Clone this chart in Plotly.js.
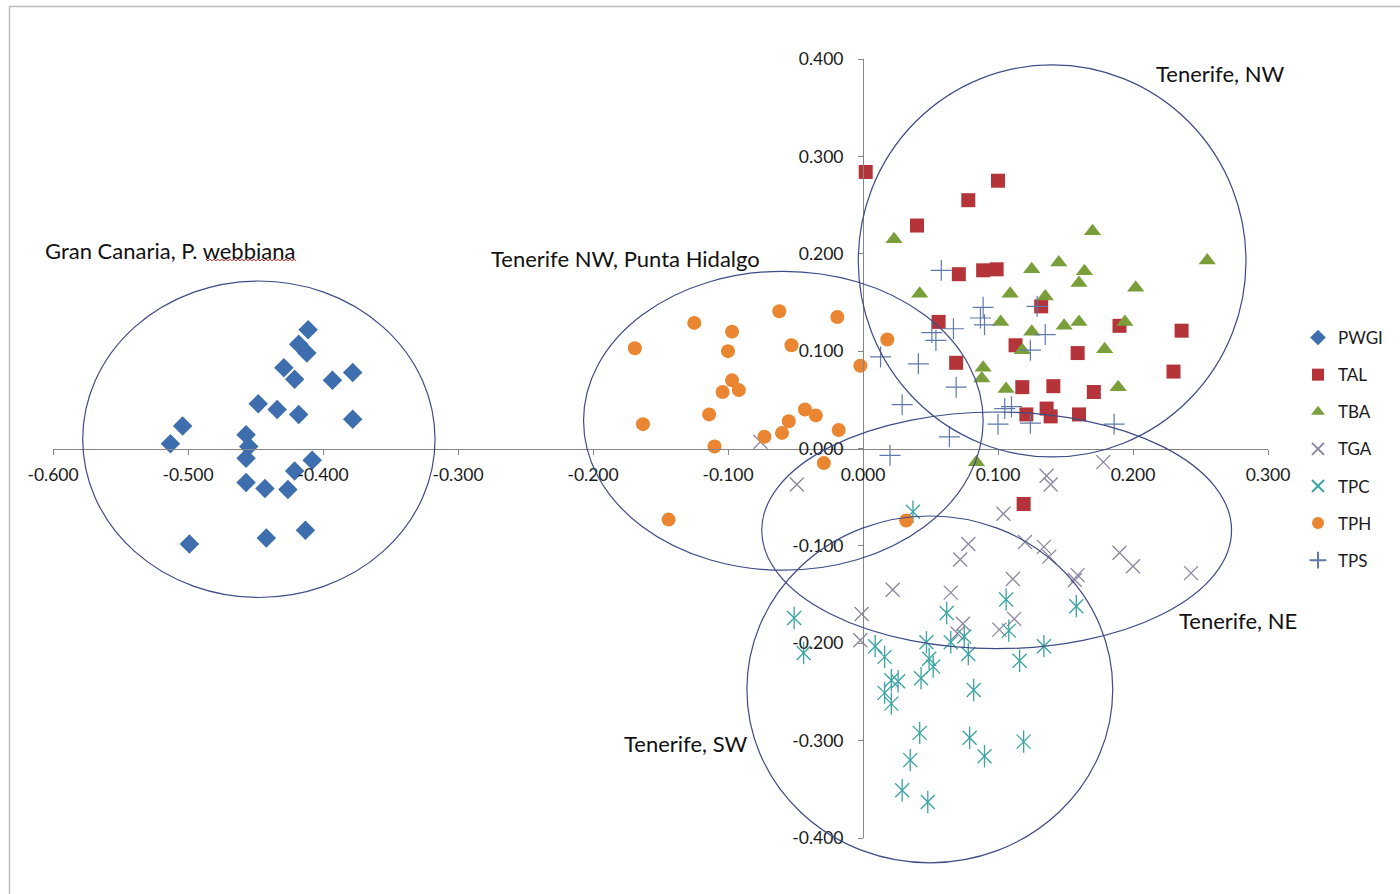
<!DOCTYPE html>
<html>
<head>
<meta charset="utf-8">
<script src="https://cdn.plot.ly/plotly-3.0.1.min.js"></script>
<style>
  html, body { margin: 0; padding: 0; background: #ffffff; }
  #chart { width: 1400px; height: 894px; }
</style>
</head>
<body>
<div id="chart"></div>
<script>
// ---------------- data ----------------
const seriesNames = ["PWGI", "TAL", "TBA", "TGA", "TPC", "TPH", "TPS"];

const pwgiX = [-0.411,-0.418,-0.412,-0.429,-0.421,-0.393,-0.378,-0.448,-0.434,-0.418,-0.378,-0.504,-0.513,-0.457,-0.455,-0.457,-0.408,-0.421,-0.457,-0.443,-0.426,-0.413,-0.442,-0.499];
const pwgiY = [0.122,0.107,0.098,0.083,0.071,0.070,0.078,0.046,0.040,0.035,0.030,0.023,0.005,0.014,0.002,-0.010,-0.012,-0.023,-0.035,-0.041,-0.042,-0.084,-0.092,-0.098];

const talX = [0.002,0.100,0.078,0.040,0.071,0.089,0.099,0.056,0.132,0.190,0.236,0.113,0.159,0.069,0.230,0.118,0.141,0.171,0.121,0.136,0.139,0.160,0.119];
const talY = [0.284,0.275,0.255,0.229,0.179,0.183,0.184,0.130,0.146,0.126,0.121,0.106,0.098,0.088,0.079,0.063,0.064,0.058,0.035,0.041,0.033,0.035,-0.057];

const tbaX = [0.023,0.170,0.255,0.145,0.125,0.164,0.160,0.042,0.109,0.135,0.202,0.102,0.149,0.160,0.194,0.125,0.118,0.179,0.089,0.088,0.106,0.189,0.084];
const tbaY = [0.215,0.223,0.193,0.191,0.184,0.182,0.170,0.159,0.159,0.156,0.165,0.130,0.126,0.130,0.130,0.120,0.101,0.102,0.083,0.072,0.061,0.063,-0.014];

const tgaX = [0.178,0.136,0.139,-0.049,0.104,0.078,0.072,0.120,0.134,0.138,0.190,0.200,0.243,0.159,0.157,0.111,0.022,0.065,-0.001,0.112,0.074,0.101,-0.076,-0.002,0.070];
const tgaY = [-0.014,-0.028,-0.037,-0.037,-0.067,-0.098,-0.114,-0.096,-0.101,-0.111,-0.107,-0.121,-0.128,-0.130,-0.135,-0.134,-0.145,-0.148,-0.170,-0.175,-0.180,-0.186,0.007,-0.197,-0.190];

const tpcX = [0.037,-0.051,-0.044,0.062,0.106,0.158,0.047,0.065,0.075,0.108,0.134,0.009,0.016,0.078,0.049,0.052,0.116,0.021,0.026,0.043,0.016,0.021,0.082,0.042,0.079,0.119,0.035,0.090,0.029,0.048];
const tpcY = [-0.065,-0.174,-0.210,-0.169,-0.155,-0.162,-0.199,-0.199,-0.193,-0.187,-0.203,-0.203,-0.214,-0.211,-0.216,-0.224,-0.218,-0.238,-0.239,-0.236,-0.251,-0.262,-0.248,-0.292,-0.297,-0.301,-0.320,-0.316,-0.351,-0.363];

const tphX = [-0.062,-0.019,-0.125,-0.097,-0.169,-0.100,-0.053,-0.002,-0.097,-0.104,-0.092,-0.043,-0.035,-0.114,-0.055,-0.060,-0.018,-0.163,-0.073,-0.110,-0.029,-0.144,0.018,0.032];
const tphY = [0.141,0.135,0.129,0.120,0.103,0.100,0.106,0.085,0.070,0.058,0.060,0.040,0.034,0.035,0.028,0.016,0.019,0.025,0.012,0.002,-0.015,-0.073,0.112,-0.074];

const tpsX = [0.058,0.089,0.087,0.090,0.067,0.051,0.054,0.129,0.135,0.124,0.013,0.041,0.069,0.029,0.105,0.110,0.100,0.124,0.186,0.064,0.020];
const tpsY = [0.183,0.145,0.134,0.127,0.123,0.119,0.111,0.146,0.117,0.101,0.094,0.087,0.063,0.045,0.041,0.043,0.025,0.026,0.025,0.012,-0.007];

// axis ticks
const xTicks = [-0.6,-0.5,-0.4,-0.3,-0.2,-0.1,0.0,0.1,0.2,0.3];
const yTicks = [-0.4,-0.3,-0.2,-0.1,0.0,0.1,0.2,0.3,0.4];

// group ellipses (data units): left, right, top, bottom
const ellipseLeft   = [-0.578, -0.207, -0.0035, -0.075, -0.086];
const ellipseRight  = [-0.317,  0.089,  0.2837,  0.273,  0.185];
const ellipseTop    = [ 0.172,  0.182,  0.394,   0.0375, -0.0693];
const ellipseBottom = [-0.153, -0.125, -0.0087, -0.2056, -0.4255];

// group labels
const groupLabels = ["Gran Canaria, P. webbiana", "Tenerife NW, Punta Hidalgo", "Tenerife, NW", "Tenerife, NE", "Tenerife, SW"];
const groupLabelX = [-0.0082, 0.3589, 0.9062, 0.9251, 0.4683];   // paper
const groupLabelY = [0.7548, 0.7433, 0.9820, 0.2786, 0.1207];     // paper

// ---------------- rendering ----------------
const xRange = [-0.6, 0.3];
const yRange = [-0.4, 0.4];
const M = {l: 53, r: 132, t: 59, b: 56};
const W = 1400, H = 894;
const pw = W - M.l - M.r, ph = H - M.t - M.b;
const px2paperX = p => (p - M.l) / pw;
const px2paperY = p => (H - M.b - p) / ph;
const dx2paper = v => (v - xRange[0]) / (xRange[1] - xRange[0]);
const dy2paper = v => (v - yRange[0]) / (yRange[1] - yRange[0]);

const FONT = "Lato, 'Liberation Sans', sans-serif";

const colors = {
  PWGI: "#3e6eae", TAL: "#b5343a", TBA: "#7a9e3a", TGA: "#8c84a0",
  TPC: "#3aa3a3", TPH: "#ea8632", TPS: "#5f7aa8"
};

function sc(name, x, y, marker, extra) {
  return Object.assign({
    type: "scatter", mode: "markers", name: name, x: x, y: y,
    legendgroup: name, marker: marker, hoverinfo: "x+y+name"
  }, extra || {});
}

const traces = [
  sc("PWGI", pwgiX, pwgiY, {symbol: "diamond", size: 15, color: colors.PWGI}),
  sc("TAL", talX, talY, {symbol: "square", size: 14, color: colors.TAL}),
  sc("TBA", tbaX, tbaY, {symbol: "triangle-up", size: 15, color: colors.TBA}),
  sc("TGA", tgaX, tgaY, {symbol: "x-thin-open", size: 14, color: colors.TGA, line: {width: 1.3, color: colors.TGA}}),
  sc("TPC", tpcX, tpcY, {symbol: "x-thin-open", size: 14, color: colors.TPC, line: {width: 1.3, color: colors.TPC}}),
  sc("TPC", tpcX, tpcY, {symbol: "line-ns-open", size: 16, color: colors.TPC, line: {width: 1.3, color: colors.TPC}}, {showlegend: false}),
  sc("TPH", tphX, tphY, {symbol: "circle", size: 14, color: colors.TPH}),
  sc("TPS", tpsX, tpsY, {symbol: "cross-thin-open", size: 15, color: colors.TPS, line: {width: 1.2, color: colors.TPS}})
];

const shapes = [];
// chart-area border (Excel style)
shapes.push({type: "rect", xref: "paper", yref: "paper",
  x0: px2paperX(9.5), x1: px2paperX(1420), y0: px2paperY(6.5), y1: px2paperY(910),
  line: {color: "#bdbdbd", width: 1.5}, fillcolor: "rgba(0,0,0,0)", layer: "below"});

for (let i = 0; i < ellipseLeft.length; i++) {
  shapes.push({type: "circle", xref: "paper", yref: "paper",
    x0: dx2paper(ellipseLeft[i]), x1: dx2paper(ellipseRight[i]),
    y0: dy2paper(ellipseBottom[i]), y1: dy2paper(ellipseTop[i]),
    line: {color: "#3e4c86", width: 1.2}, fillcolor: "rgba(0,0,0,0)", layer: "above"});
}

// red spell-check squiggle under "webbiana"
(function () {
  let d = "";
  const y0 = 260, xs = 206, xe = 297;
  let k = 0;
  for (let xp = xs; xp <= xe; xp += 2, k++) {
    const yp = y0 + (k % 2 === 0 ? -1 : 1);
    d += (k === 0 ? "M" : "L") + px2paperX(xp).toFixed(5) + "," + px2paperY(yp).toFixed(5) + " ";
  }
  shapes.push({type: "path", xref: "paper", yref: "paper", path: d,
    line: {color: "#e03030", width: 1}, layer: "above"});
})();

const annotations = groupLabels.map((t, i) => ({
  text: t, xref: "paper", yref: "paper", x: groupLabelX[i], y: groupLabelY[i],
  xanchor: "left", yanchor: "middle", showarrow: false,
  font: {family: FONT, size: 22, color: "#111111"}
}));

const axisCommon = {
  showgrid: false, zeroline: false, showline: true, linecolor: "#868686", linewidth: 1,
  ticks: "outside", ticklen: 5, tickwidth: 1, tickcolor: "#868686",
  tickfont: {family: FONT, size: 17.5, color: "#1a1a1a"}, anchor: "free", fixedrange: true
};

const layout = {
  width: W, height: H, margin: Object.assign({autoexpand: false}, M),
  paper_bgcolor: "#ffffff", plot_bgcolor: "rgba(0,0,0,0)",
  xaxis: Object.assign({}, axisCommon, {
    range: xRange, tickvals: xTicks, ticktext: xTicks.map(v => v.toFixed(3)),
    position: dy2paper(0), ticklabelstandoff: 5
  }),
  yaxis: Object.assign({}, axisCommon, {
    range: yRange, tickvals: yTicks, ticktext: yTicks.map(v => v.toFixed(3)),
    position: dx2paper(0), ticklabelstandoff: 11
  }),
  showlegend: true,
  legend: {
    x: px2paperX(1298), y: px2paperY(320), xanchor: "left", yanchor: "top",
    font: {family: FONT, size: 17, color: "#1a1a1a"}, itemsizing: "constant",
    traceorder: "grouped", tracegroupgap: 12, bgcolor: "rgba(0,0,0,0)", itemclick: false
  },
  shapes: shapes,
  annotations: annotations
};

Plotly.newPlot("chart", traces, layout, {displayModeBar: false, staticPlot: true});
</script>
</body>
</html>
